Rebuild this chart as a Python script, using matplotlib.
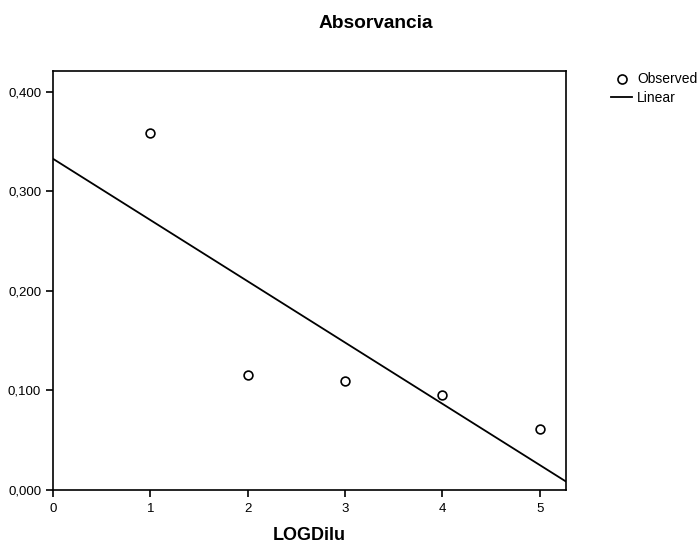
import numpy as np
import matplotlib
matplotlib.use("Agg")
import matplotlib.pyplot as plt
from matplotlib.lines import Line2D

# observed values
log_dilu = np.array([1, 2, 3, 4, 5])
absorb = np.array([0.359, 0.1156, 0.1095, 0.0955, 0.0613])
yticks = [0.0, 0.1, 0.2, 0.3, 0.4]
ytick_labels = ["0,000", "0,100", "0,200", "0,300", "0,400"]
xticks = [0, 1, 2, 3, 4, 5]

plt.rcParams['font.family'] = ['Liberation Sans', 'DejaVu Sans']

fig = plt.figure(figsize=(6.98, 5.45), dpi=100)
ax = fig.add_axes([0.0759, 0.1009, 0.7351, 0.7688])

# linear fit
slope, intercept = np.polyfit(log_dilu, absorb, 1)
xmax = 5.27
xx = np.array([0, xmax])
ax.plot(xx, intercept + slope * xx, color='black', linewidth=1.3)

ax.scatter(log_dilu, absorb, s=40, facecolors='white', edgecolors='black',
           linewidths=1.2, zorder=3)

ax.set_xlim(0, xmax)
ax.set_ylim(0, 0.421)
ax.set_xticks(xticks)
ax.set_yticks(yticks)
ax.set_yticklabels(ytick_labels)
ax.tick_params(axis='both', direction='out', length=5, width=1.2, labelsize=9.5,
               colors='black')
ax.tick_params(axis='x', pad=4.5)
for s in ax.spines.values():
    s.set_linewidth(1.2)

fig.text(0.539, 0.957, "Absorvancia", ha='center', va='center',
         fontsize=13.8, fontweight='bold')
fig.text(0.443, 0.018, "LOGDilu", ha='center', va='center',
         fontsize=13, fontweight='bold')

handles = [Line2D([], [], marker='o', linestyle='none', markerfacecolor='white',
                  markeredgecolor='black', markersize=6.5, markeredgewidth=1.2),
           Line2D([], [], color='black', linewidth=1.3)]
fig.legend(handles, ["Observed", "Linear"], loc='upper left',
           bbox_to_anchor=(0.876, 0.867), frameon=False, fontsize=10,
           handlelength=1.5, handletextpad=0.35, labelspacing=0.3,
           borderpad=0, borderaxespad=0)

fig.savefig("out.png", dpi=100)
